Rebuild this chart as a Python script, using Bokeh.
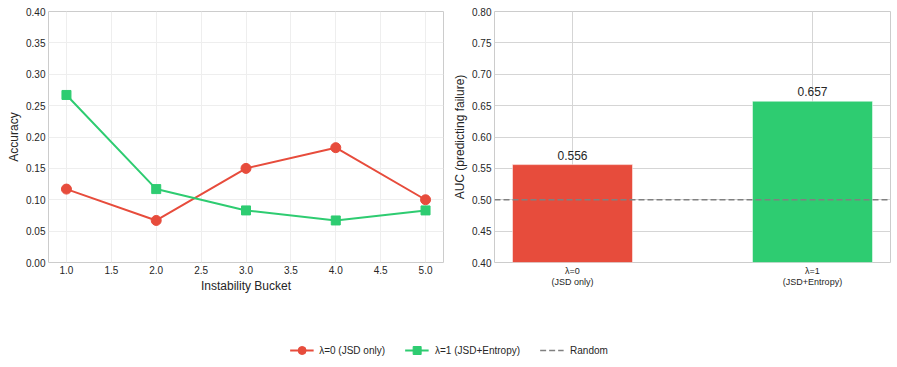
from bokeh.plotting import figure
from bokeh.layouts import column, row
from bokeh.models import (ColumnDataSource, FixedTicker, PrintfTickFormatter, Span,
                          Legend, LegendItem, Range1d)
from bokeh.embed import file_html
from bokeh.resources import INLINE
from bokeh.core.properties import value

buckets = [1, 2, 3, 4, 5]
acc_l0 = [0.117, 0.067, 0.150, 0.183, 0.100]
acc_l1 = [0.267, 0.117, 0.083, 0.067, 0.083]
bar_labels = ["λ=0\n(JSD only)", "λ=1\n(JSD+Entropy)"]
auc_values = [0.556, 0.657]
random_auc = 0.5
series_names = ["λ=0 (JSD only)", "λ=1 (JSD+Entropy)", "Random"]

RED = "#e74c3c"
GREEN = "#2ecc71"
FONT = "Liberation Sans"

def style(p, grid_color):
    p.outline_line_color = "#cccccc"
    p.outline_line_width = 1
    for ax in (p.xaxis, p.yaxis):
        ax.axis_line_color = None
        ax.major_tick_line_color = None
        ax.minor_tick_line_color = None
        ax.major_tick_out = 0
        ax.major_tick_in = 0
        ax.minor_tick_out = 0
        ax.major_label_text_font = FONT
        ax.major_label_text_font_size = "10px"
        ax.major_label_text_color = "#262626"
        ax.axis_label_text_font = FONT
        ax.axis_label_text_font_size = "12px"
        ax.axis_label_text_font_style = "normal"
        ax.axis_label_text_color = "#262626"
        ax.major_label_standoff = 3
        ax.axis_label_standoff = 2
    p.xgrid.grid_line_color = grid_color
    p.ygrid.grid_line_color = grid_color
    p.background_fill_color = "white"
    p.border_fill_color = "white"

# Left: line chart
p1 = figure(width=450, height=302, output_backend="svg", toolbar_location=None,
            x_range=Range1d(0.8, 5.2), y_range=Range1d(0, 0.4),
            min_border_left=48, min_border_right=7, min_border_top=11, min_border_bottom=40)
style(p1, "#eeeeee")
p1.xaxis.ticker = FixedTicker(ticks=[1, 1.5, 2, 2.5, 3, 3.5, 4, 4.5, 5])
p1.xaxis.formatter = PrintfTickFormatter(format="%.1f")
p1.yaxis.ticker = FixedTicker(ticks=[i * 0.05 for i in range(9)])
p1.yaxis.formatter = PrintfTickFormatter(format="%.2f")
p1.xaxis.axis_label = "Instability Bucket"
p1.yaxis.axis_label = "Accuracy"

src = ColumnDataSource(dict(x=buckets, a0=acc_l0, a1=acc_l1))
p1.line("x", "a0", source=src, color=RED, line_width=2)
p1.scatter("x", "a0", source=src, marker="circle", size=10, color=RED)
p1.line("x", "a1", source=src, color=GREEN, line_width=2)
p1.scatter("x", "a1", source=src, marker="square", size=9, color=GREEN)

# Right: bar chart
xs = list(range(len(auc_values)))
p2 = figure(width=447, height=302, output_backend="svg", toolbar_location=None,
            x_range=Range1d(-0.325, 1.325), y_range=Range1d(0.4, 0.8),
            min_border_left=44, min_border_right=7, min_border_top=11, min_border_bottom=40)
style(p2, "#d5d5d5")
p2.xaxis.ticker = FixedTicker(ticks=xs)
p2.xaxis.major_label_overrides = {i: lab for i, lab in zip(xs, bar_labels)}
p2.xaxis.major_label_text_font_size = "9px"
p2.xaxis.major_label_text_line_height = 1.1
p2.yaxis.ticker = FixedTicker(ticks=[0.4 + i * 0.05 for i in range(9)])
p2.yaxis.formatter = PrintfTickFormatter(format="%.2f")
p2.yaxis.axis_label = "AUC (predicting failure)"

bsrc = ColumnDataSource(dict(x=xs, top=auc_values, lab=["%.3f" % v for v in auc_values],
                             color=[RED, GREEN]))
p2.vbar(x="x", top="top", bottom=0.4, width=0.5, source=bsrc, fill_color="color",
        line_color="white", line_width=0.5)
p2.text(x="x", y="top", text="lab", source=bsrc, text_align="center", text_baseline="bottom",
        y_offset=-5, text_font=value(FONT), text_font_size="12px", text_color="#262626")
p2.add_layout(Span(location=random_auc, dimension="width", line_color="#808080",
                   line_dash="6 3", line_width=1.5))

# Legend figure (renderers sit outside its visible ranges; only their legend glyphs show)
p3 = figure(width=897, height=58, output_backend="svg", toolbar_location=None,
            x_range=Range1d(-20, -19), y_range=Range1d(-20, -19),
            min_border=0)
p3.axis.visible = False
p3.grid.visible = False
p3.outline_line_color = None
r0l = p3.line("x", "a0", source=src, color=RED, line_width=2)
r0m = p3.scatter("x", "a0", source=src, marker="circle", size=10, color=RED)
r1l = p3.line("x", "a1", source=src, color=GREEN, line_width=2)
r1m = p3.scatter("x", "a1", source=src, marker="square", size=9, color=GREEN)
rr = p3.line("x", "a0", source=src, color="#808080", line_dash="6 3", line_width=1.5)
leg = Legend(items=[LegendItem(label=series_names[0], renderers=[r0l, r0m]),
                    LegendItem(label=series_names[1], renderers=[r1l, r1m]),
                    LegendItem(label=series_names[2], renderers=[rr])],
             orientation="horizontal", location="bottom_center",
             label_text_font=FONT, label_text_font_size="10px", label_text_color="#262626",
             border_line_color=None, background_fill_alpha=0, spacing=20,
             glyph_width=24, label_standoff=6, margin=0, padding=4)
p3.add_layout(leg, "center")

layout = column(row(p1, p2), p3)
open("out.html", "w").write(file_html(layout, INLINE))
